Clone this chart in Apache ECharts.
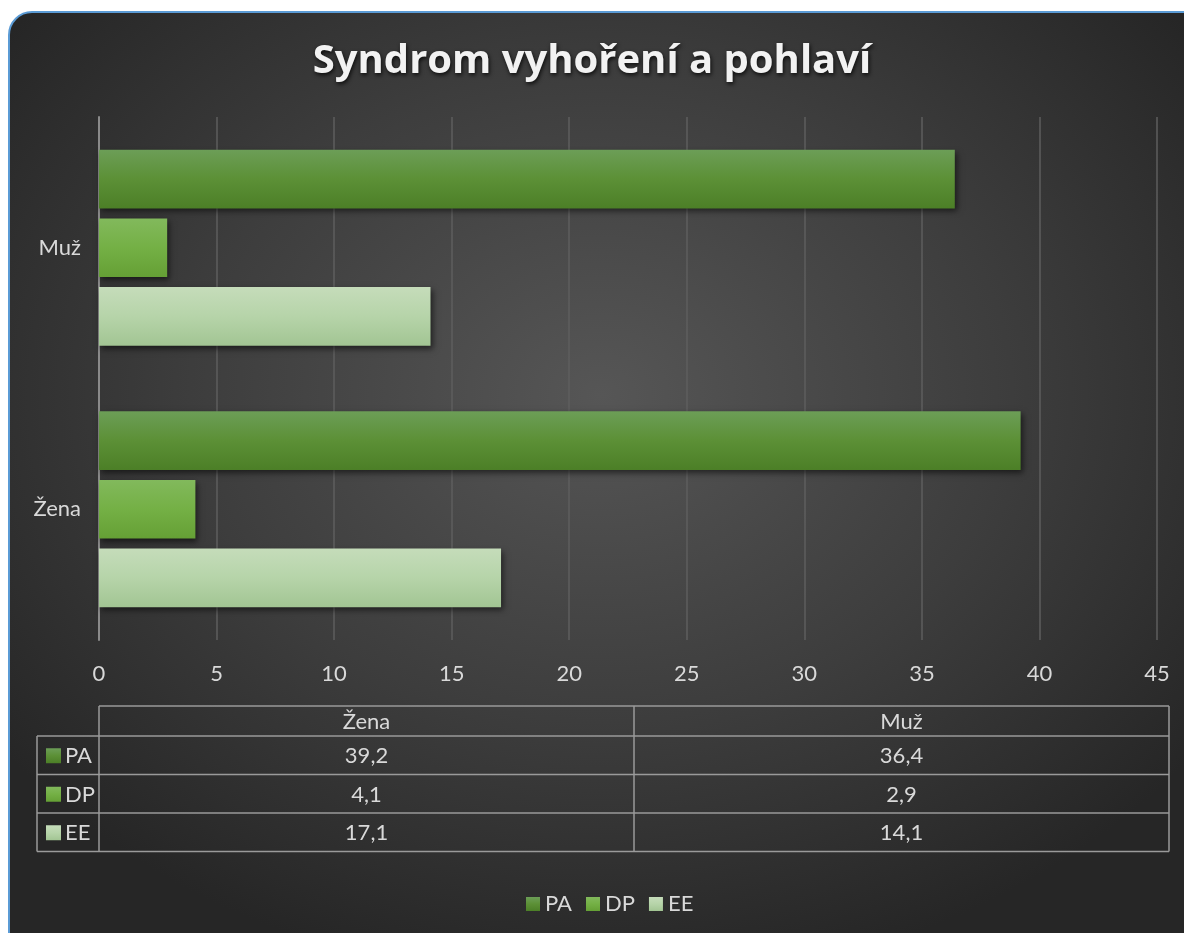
<!DOCTYPE html>
<html>
<head>
<meta charset="utf-8">
<script src="https://cdn.jsdelivr.net/npm/echarts@6/dist/echarts.min.js"></script>
<style>
  html, body { margin: 0; padding: 0; background: #ffffff; width: 1184px; height: 933px; overflow: hidden; }
  #card {
    position: absolute; left: 8px; top: 11px; width: 1210px; height: 960px;
    border: 2px solid #5b9bd5; border-radius: 24px; box-sizing: border-box;
    background: radial-gradient(ellipse 62% 62% at 49% 40%, #565656 0%, #3d3d3d 55%, #262626 100%);
  }
  #chart { position: absolute; left: 0; top: 0; width: 1184px; height: 933px; }
</style>
</head>
<body>
<div id="card"></div>
<div id="chart"></div>
<script>
// ---- data ----
const categories = ['Žena', 'Muž'];
const seriesNames = ['PA', 'DP', 'EE'];
const valuesPA = [39.2, 36.4];
const valuesDP = [4.1, 2.9];
const valuesEE = [17.1, 14.1];
const xTicks = [0, 5, 10, 15, 20, 25, 30, 35, 40, 45];
const titleText = 'Syndrom vyhoření a pohlaví';

const seriesValues = [valuesPA, valuesDP, valuesEE];
const FONT = 'Lato, "Open Sans", sans-serif';
const FS = 22;
const TXT = '#d9d9d9';

function grad(top, mid, bot) {
  return new echarts.graphic.LinearGradient(0, 0, 0, 1, [
    { offset: 0, color: top }, { offset: 0.5, color: mid }, { offset: 1, color: bot }
  ]);
}
const colors = [
  grad('#6c9e57', '#5c9036', '#4c7f27'),
  grad('#82b95c', '#74b045', '#65a035'),
  grad('#c5dcba', '#b6d4a9', '#a2c593')
];

const chart = echarts.init(document.getElementById('chart'), null, { renderer: 'canvas' });

// table geometry
const tLeft = 37, tColStart = 99, tRight = 1169, tMid = 634;
const tHeadTop = 706, tHeadBot = 736, rowH = 38.5;
const lineColor = '#9a9a9a';
const graphics = [];
function ln(x1, y1, x2, y2) {
  graphics.push({ type: 'line', shape: { x1, y1, x2, y2 }, style: { stroke: lineColor, lineWidth: 1.5 } });
}
const tBottom = tHeadBot + rowH * seriesNames.length;
ln(tColStart, tHeadTop, tRight, tHeadTop);
ln(tColStart, tHeadTop, tColStart, tBottom);
ln(tMid, tHeadTop, tMid, tBottom);
ln(tRight, tHeadTop, tRight, tBottom);
ln(tLeft, tHeadBot, tLeft, tBottom);
for (let r = 0; r <= seriesNames.length; r++) ln(tLeft, tHeadBot + rowH * r, tRight, tHeadBot + rowH * r);

const colCenters = [(tColStart + tMid) / 2, (tMid + tRight) / 2];
categories.forEach((c, i) => {
  graphics.push({ type: 'text', x: colCenters[i], y: (tHeadTop + tHeadBot) / 2 + 1, style: { text: c, fill: TXT, font: FS + 'px ' + FONT, align: 'center', verticalAlign: 'middle' } });
});
seriesNames.forEach((s, r) => {
  const yc = tHeadBot + rowH * r + rowH / 2;
  graphics.push({ type: 'rect', shape: { x: 46, y: yc - 7, width: 15, height: 15 }, style: { fill: colors[r] } });
  graphics.push({ type: 'text', x: 65, y: yc + 1, style: { text: s, fill: TXT, font: FS + 'px ' + FONT, align: 'left', verticalAlign: 'middle' } });
  seriesValues[r].forEach((v, i) => {
    graphics.push({ type: 'text', x: colCenters[i], y: yc + 1, style: { text: v.toFixed(1).replace('.', ','), fill: TXT, font: FS + 'px ' + FONT, align: 'center', verticalAlign: 'middle' } });
  });
});

const option = {
  backgroundColor: 'transparent',
  animation: false,
  title: {
    text: titleText, left: 'center', top: 37,
    textStyle: { color: '#f2f2f2', fontSize: 40, fontWeight: 'bold', fontFamily: '"Open Sans", Lato, sans-serif',
      textShadowColor: 'rgba(0,0,0,0.8)', textShadowBlur: 4, textShadowOffsetX: 1, textShadowOffsetY: 2 }
  },
  grid: { left: 99, right: 27, top: 117, bottom: 293, containLabel: false },
  legend: {
    data: seriesNames, bottom: 13, left: 521, icon: 'rect', itemWidth: 14, itemHeight: 14, itemGap: 14,
    textStyle: { color: TXT, fontSize: FS, fontFamily: FONT, padding: [0, 0, 0, 0] }
  },
  xAxis: {
    type: 'value', min: 0, max: 45, interval: 5,
    axisLine: { show: false }, axisTick: { show: false },
    splitLine: { show: true, lineStyle: { color: '#5e5e5e', width: 1.5 } },
    axisLabel: { color: TXT, fontSize: FS, fontFamily: FONT, margin: 23 }
  },
  yAxis: {
    type: 'category', data: categories,
    axisLine: { show: true, lineStyle: { color: '#8a8a8a', width: 2 } }, axisTick: { show: false },
    axisLabel: { color: TXT, fontSize: FS, fontFamily: FONT, margin: 18 }
  },
  series: seriesNames.map((name, i) => ({
    name, type: 'bar', data: seriesValues[i],
    barGap: '17%', barCategoryGap: '25%',
    itemStyle: { color: colors[i], shadowColor: 'rgba(0,0,0,0.55)', shadowBlur: 6, shadowOffsetX: 2, shadowOffsetY: 3 }
  })),
  graphic: graphics
};
chart.setOption(option);
</script>
</body>
</html>
